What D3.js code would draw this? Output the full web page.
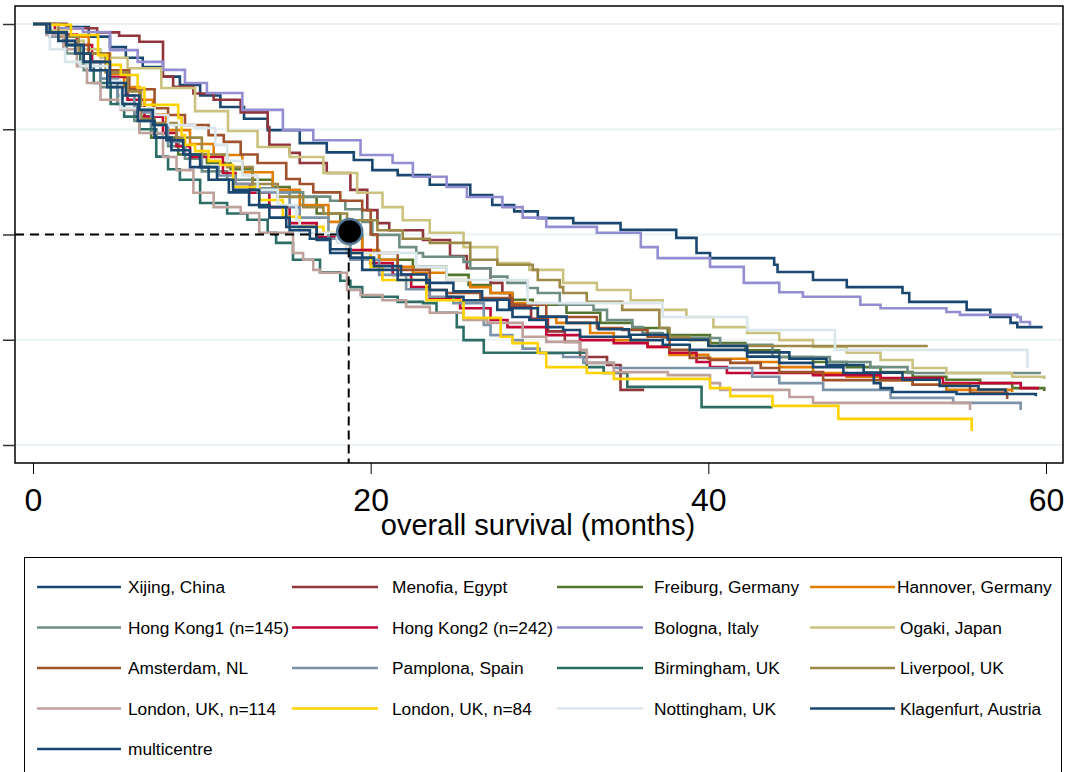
<!DOCTYPE html>
<html>
<head>
<meta charset="utf-8">
<script src="https://cdn.jsdelivr.net/npm/d3@7"></script>
<style>
	html, body { margin: 0; padding: 0; background: #ffffff; }
	#km-chart { width: 1066px; height: 772px; overflow: hidden; }
	text { font-family: "Liberation Sans", Arial, sans-serif; }
</style>
</head>
<body>
<div id="km-chart"></div>
<script>
// [months, survival] step points per centre
const xijing = [[0,1],[2.0,0.993],[3.3,0.97],[4.56,0.945],[5.5,0.92],[6.5,0.898],[7.6,0.875],[8.7,0.855],[9.9,0.83],[11.1,0.803],[12.5,0.775],[13.9,0.748],[15.8,0.717],[17.4,0.695],[19.0,0.677],[20.1,0.653],[21.6,0.641],[23.5,0.618],[25.9,0.594],[27.2,0.57],[28.5,0.555],[29.9,0.539],[32.0,0.527],[34.8,0.511],[38.1,0.492],[39.3,0.456],[40.1,0.444],[43.9,0.428],[44.1,0.411],[46.2,0.392],[48.2,0.375],[51.5,0.361],[51.9,0.34],[55.3,0.321],[56.7,0.304],[57.9,0.29],[58.3,0.28],[59.8,0.28]];
const menofia = [[0,1],[2.0,0.99],[3.8,0.98],[5.1,0.972],[6.3,0.958],[7.7,0.875],[8.3,0.851],[9.5,0.835],[10.7,0.82],[12.3,0.79],[13.9,0.755],[14.0,0.713],[15.2,0.694],[15.8,0.67],[17.4,0.646],[18.8,0.606],[19.8,0.558],[20.4,0.527],[21.1,0.51],[23.1,0.487],[24.7,0.449],[25.7,0.42],[27.1,0.385],[27.8,0.361],[28.25,0.328],[29.5,0.3],[30.5,0.27],[31.5,0.245],[32.4,0.209],[34.0,0.19],[34.8,0.131],[36.2,0.131]];
const freiburg = [[0,1],[1,0.98],[2,0.95],[3,0.91],[4,0.87],[5,0.83],[6,0.78],[7,0.73],[8.6,0.69],[10.3,0.67],[11.7,0.655],[13.0,0.63],[14.2,0.613],[15.2,0.589],[16.8,0.55],[18.2,0.5],[19.5,0.46],[20.5,0.44],[22.5,0.423],[24.5,0.404],[25.8,0.38],[27.1,0.361],[28.4,0.345],[29.6,0.333],[31.6,0.314],[33.6,0.29],[35.5,0.278],[37.6,0.261],[40.1,0.242],[42.2,0.225],[44.2,0.209],[46.2,0.197],[48.2,0.185],[50.2,0.173],[52.1,0.162],[54.1,0.155],[56.1,0.147],[58.0,0.135],[59.9,0.128]];
const hannover = [[0,1],[1,0.985],[2,0.97],[3.3,0.93],[4.56,0.881],[5.4,0.85],[6.3,0.82],[7.1,0.785],[7.9,0.748],[9.3,0.715],[10.7,0.689],[12.4,0.648],[14.2,0.606],[15.8,0.57],[17.5,0.53],[18.5,0.49],[19.5,0.463],[20.5,0.44],[21.6,0.423],[22.5,0.409],[24.5,0.392],[25.9,0.375],[27.1,0.361],[28.4,0.337],[29.9,0.304],[31.0,0.29],[33.0,0.266],[34.4,0.249],[36.4,0.233],[37.7,0.214],[40.0,0.205],[42.3,0.197],[44.2,0.185],[46.2,0.171],[48.2,0.162],[50.2,0.154],[52.1,0.143],[54.1,0.131],[58.0,0.126]];
const hongKong1 = [[0,1],[1,0.97],[2,0.93],[3,0.89],[4,0.85],[5,0.81],[6,0.77],[7,0.74],[8,0.71],[9,0.68],[10,0.65],[11.5,0.63],[13,0.61],[14.5,0.6],[16,0.59],[17.6,0.58],[18.5,0.56],[19.5,0.53],[20.1,0.499],[21.7,0.47],[22.7,0.456],[23.1,0.447],[25.5,0.435],[25.9,0.42],[27.1,0.4],[28.1,0.385],[29.3,0.373],[29.9,0.361],[31.2,0.333],[33.2,0.321],[34.0,0.297],[35.5,0.28],[36.1,0.266],[37.3,0.254],[40.7,0.238],[43.8,0.209],[47.2,0.197],[49.6,0.185],[51.8,0.171],[59.7,0.171]];
const hongKong2 = [[0,1],[1.3,0.975],[2.6,0.95],[3.5,0.91],[4.4,0.874],[5.6,0.82],[6.6,0.78],[7.7,0.741],[8.5,0.71],[9.3,0.684],[11.25,0.646],[12.0,0.62],[12.85,0.599],[14.0,0.565],[15.2,0.527],[16.8,0.494],[18.6,0.463],[20.0,0.432],[21.3,0.404],[22.4,0.375],[23.5,0.35],[25.3,0.325],[27.1,0.297],[28.1,0.28],[30.4,0.261],[32.4,0.249],[34.4,0.242],[36.4,0.233],[37.7,0.219],[39.3,0.197],[40.1,0.185],[41.1,0.171],[46.2,0.166],[50.2,0.159],[53.9,0.147],[58.5,0.135],[59.5,0.131]];
const bologna = [[0,1],[1.5,0.99],[2.96,0.981],[4.56,0.938],[6.2,0.91],[7.7,0.891],[9.0,0.86],[10.3,0.836],[12.4,0.796],[14.8,0.748],[16.6,0.724],[19.4,0.689],[21.3,0.67],[22.5,0.637],[24.5,0.613],[25.7,0.589],[27.8,0.565],[29.0,0.54],[30.4,0.518],[33.4,0.504],[36.0,0.47],[37.0,0.444],[40.1,0.423],[42.1,0.385],[44.2,0.363],[45.6,0.352],[49.0,0.333],[50.2,0.325],[54.1,0.316],[54.9,0.309],[58.3,0.304],[58.5,0.292],[59.05,0.283]];
const ogaki = [[0,1],[1,0.985],[2,0.96],[3,0.94],[4,0.92],[5.6,0.895],[7.6,0.848],[9.6,0.793],[11.55,0.746],[13.3,0.708],[15.2,0.684],[17.2,0.646],[19.2,0.599],[20.7,0.565],[21.9,0.534],[23.5,0.504],[25.5,0.47],[27.5,0.432],[29.4,0.416],[31.4,0.385],[33.4,0.368],[35.4,0.344],[37.3,0.321],[38.7,0.304],[40.3,0.28],[42.3,0.266],[44.2,0.249],[46.2,0.233],[48.2,0.219],[50.2,0.202],[52.1,0.183],[54.1,0.171],[58.0,0.162],[59.9,0.157]];
const amsterdam = [[0,1],[1.0,0.975],[1.9,0.95],[3.3,0.93],[4.5,0.89],[5.7,0.845],[7.2,0.8],[8.0,0.784],[9.0,0.76],[10.4,0.736],[11.3,0.72],[12.3,0.69],[13.3,0.67],[15.0,0.632],[15.8,0.62],[16.6,0.6],[18.2,0.58],[19.5,0.558],[20.0,0.5],[20.4,0.456],[21.6,0.416],[23.5,0.368],[24.5,0.361],[26.5,0.349],[28.4,0.333],[30.4,0.304],[33.4,0.278],[34.9,0.273],[36.4,0.257],[37.7,0.226],[38.9,0.207],[40.1,0.202],[41.3,0.195],[43.1,0.183],[44.2,0.173],[46.8,0.154],[52.1,0.143],[55.5,0.124],[57.7,0.109]];
const pamplona = [[0,1],[1,0.97],[2,0.95],[3,0.91],[4,0.87],[5,0.83],[6,0.79],[7,0.76],[8,0.72],[9,0.69],[10,0.66],[11,0.64],[12,0.62],[13.3,0.6],[15.2,0.565],[15.8,0.54],[17.5,0.49],[18.8,0.44],[20.5,0.404],[22.1,0.37],[23.5,0.352],[24.9,0.337],[26.7,0.285],[27.1,0.261],[28.4,0.249],[29.0,0.229],[30.0,0.218],[31.4,0.209],[32.6,0.195],[34.4,0.183],[42.6,0.162],[44.2,0.147],[46.8,0.131],[50.8,0.112],[54.5,0.1],[58.5,0.083]];
const birmingham = [[0,1],[1.0,0.975],[2.0,0.95],[2.8,0.9],[3.6,0.86],[4.6,0.81],[5.4,0.78],[6.3,0.75],[7.3,0.685],[8.0,0.655],[8.7,0.63],[9.9,0.575],[11.5,0.55],[12.7,0.535],[13.9,0.504],[14.4,0.48],[15.4,0.44],[17.0,0.41],[18.2,0.39],[18.8,0.375],[19.5,0.352],[21.6,0.34],[23.1,0.337],[23.9,0.314],[25.1,0.28],[25.5,0.249],[26.7,0.219],[32.8,0.185],[33.8,0.171],[35.2,0.138],[39.6,0.09],[43.8,0.09]];
const liverpool = [[0,1],[1.5,0.97],[2.7,0.93],[4.3,0.885],[5.6,0.84],[6.4,0.775],[7.2,0.765],[8.5,0.73],[10,0.69],[11.5,0.66],[13,0.62],[14.5,0.59],[16,0.565],[17.2,0.55],[18.6,0.534],[20.4,0.51],[21.9,0.49],[23.5,0.48],[25.9,0.44],[27.5,0.428],[29.6,0.416],[29.9,0.392],[31.2,0.375],[31.4,0.361],[32.8,0.34],[34.9,0.321],[37.1,0.278],[37.7,0.257],[38.9,0.249],[40.1,0.235],[53.0,0.235]];
const london114 = [[0,1],[0.8,0.974],[1.8,0.94],[2.6,0.9],[3.2,0.86],[4.0,0.82],[5.2,0.796],[6.3,0.741],[7.7,0.684],[8.5,0.653],[9.5,0.599],[10.7,0.565],[12.3,0.551],[13.4,0.504],[15.4,0.456],[16.0,0.44],[16.6,0.416],[17.0,0.409],[18.6,0.368],[19.4,0.356],[20.7,0.344],[22.1,0.328],[23.5,0.314],[25.5,0.297],[26.9,0.29],[29.0,0.257],[30.4,0.245],[32.4,0.226],[32.8,0.195],[34.4,0.173],[37.6,0.166],[40.1,0.147],[40.7,0.131],[44.8,0.114],[46.2,0.1],[55.5,0.083]];
const london84 = [[0,1],[0.9,0.998],[2.25,0.974],[3.85,0.926],[4.4,0.903],[5.2,0.879],[6.2,0.848],[6.6,0.808],[8.6,0.777],[8.8,0.736],[9.0,0.713],[9.6,0.698],[10.4,0.675],[11.1,0.665],[11.85,0.613],[13.4,0.582],[14.8,0.542],[15.8,0.518],[17.2,0.504],[18.4,0.48],[18.6,0.456],[20.0,0.423],[20.7,0.392],[23.3,0.344],[25.5,0.302],[27.7,0.257],[28.4,0.242],[29.9,0.219],[30.4,0.185],[32.8,0.171],[34.4,0.157],[40.1,0.135],[41.3,0.116],[43.8,0.093],[47.7,0.062],[55.6,0.033]];
const nottingham = [[0,1],[1.0,0.94],[1.9,0.91],[2.8,0.9],[4.4,0.865],[5.2,0.8],[7.2,0.784],[8.0,0.76],[9.6,0.753],[10.8,0.713],[11.5,0.675],[12.4,0.64],[13.3,0.606],[14.5,0.57],[15.6,0.534],[15.8,0.504],[18.0,0.48],[18.6,0.456],[22.7,0.423],[24.5,0.392],[29.3,0.337],[37.3,0.304],[42.3,0.273],[47.5,0.226],[58.9,0.183]];
const klagenfurt = [[0,1],[0.8,0.98],[1.5,0.96],[2.5,0.93],[3.4,0.89],[4.4,0.85],[5.3,0.81],[6.2,0.77],[7.2,0.73],[8.2,0.7],[9.3,0.66],[10.4,0.63],[11.6,0.6],[12.8,0.57],[14.0,0.54],[15.2,0.51],[16.4,0.49],[17.6,0.465],[18.8,0.445],[20.2,0.425],[21.8,0.405],[23.3,0.385],[24.9,0.365],[26.6,0.345],[28.2,0.325],[29.9,0.305],[31.6,0.29],[33.5,0.275],[35.3,0.262],[37.6,0.25],[40.0,0.235],[42.3,0.22],[44.8,0.205],[47.0,0.19],[49.2,0.172],[51.5,0.155],[53.7,0.14],[56.0,0.132],[57.6,0.125]];
const multicentre = [[0,1],[1,0.98],[2,0.95],[3,0.91],[4.56,0.86],[5.5,0.83],[6.3,0.796],[7.1,0.76],[7.9,0.724],[8.9,0.69],[9.9,0.66],[10.9,0.63],[11.85,0.606],[13.4,0.565],[15.0,0.518],[16.8,0.487],[17.6,0.456],[19.5,0.416],[21.6,0.392],[23.5,0.368],[24.5,0.352],[25.5,0.344],[27.5,0.321],[28.4,0.304],[29.4,0.297],[30.4,0.28],[31.4,0.273],[32.4,0.257],[35.4,0.249],[37.3,0.238],[38.9,0.226],[42.3,0.21],[44.2,0.195],[46.2,0.185],[48.0,0.171],[49.8,0.147],[50.2,0.135],[50.9,0.126],[54.7,0.121],[59.4,0.116]];

const seriesNames = ['Xijing, China', 'Menofia, Egypt', 'Freiburg, Germany', 'Hannover, Germany',
	'Hong Kong1 (n=145)', 'Hong Kong2 (n=242)', 'Bologna, Italy', 'Ogaki, Japan',
	'Amsterdam, NL', 'Pamplona, Spain', 'Birmingham, UK', 'Liverpool, UK',
	'London, UK, n=114', 'London, UK, n=84', 'Nottingham, UK', 'Klagenfurt, Austria', 'multicentre'];
const seriesValues = [xijing, menofia, freiburg, hannover, hongKong1, hongKong2, bologna, ogaki,
	amsterdam, pamplona, birmingham, liverpool, london114, london84, nottingham, klagenfurt, multicentre];
const seriesColors = ['#1a476f', '#90353b', '#55752f', '#e37e00', '#6e8e84', '#c10534', '#938dd2', '#cac27e',
	'#a0522d', '#7b92a8', '#2d6d66', '#9c8847', '#bfa19c', '#ffd200', '#d9e6eb', '#1a476f', '#1a476f'];

const xTicks = [0, 20, 40, 60];
const yTicks = [0, 0.25, 0.5, 0.75, 1];
const xTitle = 'overall survival (months)';
const medianMonths = 18.7;	// pooled median survival
const medianSurvival = 0.5;

class SurvivalChartComponent {
	width = 1066;
	height = 772;
	frame = { left: 15, top: 6, right: 1063, bottom: 463 };

	#render() {
		const container = document.getElementById('km-chart');
		if (!container) throw new Error('SurvivalChartComponent: render => container not found');
		container.innerHTML = '';

		const f = this.frame;
		const svg = d3.select(container)
			.append('svg')
			.attr('width', this.width)
			.attr('height', this.height);

		svg.append('rect')
			.attr('width', this.width).attr('height', this.height)
			.attr('fill', '#ffffff');

		const x = d3.scaleLinear().domain([0, 60]).range([33, 1046]);
		const y = d3.scaleLinear().domain([0, 1]).range([445, 24]);

		// Grid
		svg.append('g')
			.selectAll('line')
			.data(yTicks)
			.enter()
			.append('line')
			.attr('x1', f.left).attr('x2', f.right)
			.attr('y1', d => y(d)).attr('y2', d => y(d))
			.attr('stroke', '#eaf2f3')
			.attr('stroke-width', 2);

		// Curves
		const line = d3.line()
			.x(d => x(d[0]))
			.y(d => y(d[1]))
			.curve(d3.curveStepAfter);

		svg.append('g')
			.selectAll('path')
			.data(seriesValues)
			.enter()
			.append('path')
			.attr('d', d => line(d))
			.attr('fill', 'none')
			.attr('stroke', (d, i) => seriesColors[i])
			.attr('stroke-width', 2.6)
			.attr('stroke-linejoin', 'miter');

		// Median guide lines
		svg.append('line')
			.attr('x1', f.left).attr('x2', x(medianMonths))
			.attr('y1', y(medianSurvival)).attr('y2', y(medianSurvival))
			.attr('stroke', '#000')
			.attr('stroke-width', 2)
			.attr('stroke-dasharray', '9,6');
		svg.append('line')
			.attr('x1', x(medianMonths)).attr('x2', x(medianMonths))
			.attr('y1', y(medianSurvival)).attr('y2', f.bottom)
			.attr('stroke', '#000')
			.attr('stroke-width', 2)
			.attr('stroke-dasharray', '9,5');
		svg.append('circle')
			.attr('cx', x(medianMonths) + 1)
			.attr('cy', y(medianSurvival) - 3)
			.attr('r', 12.5)
			.attr('fill', '#000')
			.attr('stroke', '#55799a')
			.attr('stroke-width', 2.5);

		// Frame
		svg.append('rect')
			.attr('x', f.left).attr('y', f.top)
			.attr('width', f.right - f.left).attr('height', f.bottom - f.top)
			.attr('fill', 'none')
			.attr('stroke', '#000')
			.attr('stroke-width', 1.5);

		// Axes
		const yAxis = svg.append('g')
			.attr('transform', `translate(${f.left},0)`)
			.call(d3.axisLeft(y).tickValues(yTicks).tickSize(12).tickFormat(''));
		yAxis.select('.domain').remove();
		yAxis.selectAll('line').attr('stroke', '#333').attr('stroke-width', 1.5);

		const xAxis = svg.append('g')
			.attr('transform', `translate(0,${f.bottom})`)
			.call(d3.axisBottom(x).tickValues(xTicks).tickSize(11).tickPadding(14));
		xAxis.select('.domain').remove();
		xAxis.selectAll('line').attr('stroke', '#000').attr('stroke-width', 1);
		xAxis.selectAll('text')
			.style('font-family', '"Liberation Sans", Arial, sans-serif')
			.style('font-size', '32px')
			.attr('fill', '#000');

		svg.append('text')
			.attr('x', 538)
			.attr('y', 535)
			.attr('text-anchor', 'middle')
			.style('font-size', '29px')
			.attr('fill', '#000')
			.text(xTitle);

		this.#renderLegend(svg);
	}
	#renderLegend(svg) {
		svg.append('rect')
			.attr('x', 24.5).attr('y', 557.5)
			.attr('width', 1037).attr('height', 260)
			.attr('fill', 'none')
			.attr('stroke', '#000')
			.attr('stroke-width', 1);

		const cols = [
			{ x1: 37, x2: 121, tx: 128 },
			{ x1: 292, x2: 378, tx: 392 },
			{ x1: 557, x2: 643, tx: 654 },
			{ x1: 810, x2: 895, tx: 900 }
		];
		const rowY = i => 587 + Math.floor(i / 4) * 40.5;

		const items = svg.append('g')
			.selectAll('g')
			.data(seriesNames)
			.enter()
			.append('g');

		items.append('line')
			.attr('x1', (d, i) => cols[i % 4].x1)
			.attr('x2', (d, i) => cols[i % 4].x2)
			.attr('y1', (d, i) => rowY(i))
			.attr('y2', (d, i) => rowY(i))
			.attr('stroke', (d, i) => seriesColors[i])
			.attr('stroke-width', 2.6);

		items.append('text')
			.attr('x', (d, i) => cols[i % 4].tx - (i === 3 ? 3 : 0))
			.attr('y', (d, i) => rowY(i))
			.attr('dy', '0.35em')
			.style('font-size', '17.3px')
			.attr('fill', '#000')
			.text(d => d);
	}

	render() { this.#render(); }
}

new SurvivalChartComponent().render();
</script>
</body>
</html>
